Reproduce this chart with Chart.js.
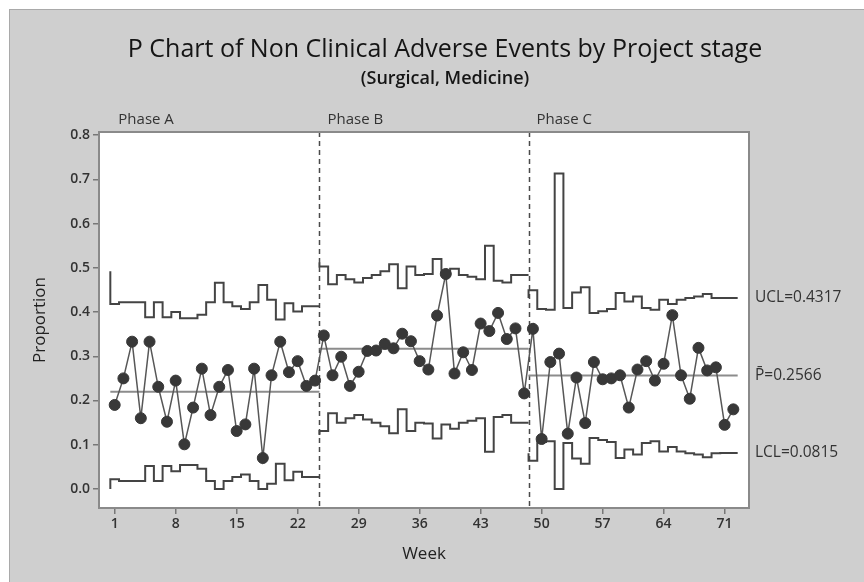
<!DOCTYPE html>
<html>
<head>
<meta charset="utf-8">
<script src="https://cdn.jsdelivr.net/npm/chart.js"></script>
<style>
  body { margin: 0; background: #fff; }
  canvas { display: block; }
</style>
</head>
<body>
<canvas id="myChart" width="864" height="582"></canvas>
<script>
const weeks = [1,2,3,4,5,6,7,8,9,10,11,12,13,14,15,16,17,18,19,20,21,22,23,24,
  25,26,27,28,29,30,31,32,33,34,35,36,37,38,39,40,41,42,43,44,45,46,47,48,
  49,50,51,52,53,54,55,56,57,58,59,60,61,62,63,64,65,66,67,68,69,70,71,72];

const proportion = [
  0.190,0.250,0.333,0.160,0.333,0.231,0.152,0.245,0.101,0.184,0.272,0.167,
  0.231,0.269,0.131,0.146,0.272,0.070,0.257,0.333,0.264,0.289,0.233,0.245,
  0.347,0.257,0.299,0.233,0.265,0.312,0.313,0.328,0.318,0.351,0.334,0.289,
  0.270,0.392,0.486,0.261,0.309,0.269,0.374,0.357,0.398,0.339,0.363,0.216,
  0.362,0.113,0.287,0.306,0.125,0.252,0.149,0.287,0.248,0.250,0.257,0.184,
  0.270,0.289,0.245,0.283,0.393,0.257,0.204,0.319,0.268,0.275,0.145,0.180
];

const ucl = [
  0.492,0.418,0.422,0.422,0.422,0.388,0.422,0.388,0.400,0.386,0.386,0.394,
  0.422,0.466,0.422,0.413,0.407,0.422,0.461,0.428,0.383,0.420,0.401,0.413,
  0.512,0.503,0.463,0.484,0.474,0.467,0.477,0.484,0.492,0.508,0.454,0.503,
  0.484,0.486,0.520,0.488,0.498,0.484,0.480,0.474,0.550,0.471,0.467,0.484,
  0.432,0.449,0.407,0.405,0.713,0.409,0.444,0.456,0.398,0.402,0.407,0.443,
  0.424,0.435,0.409,0.405,0.428,0.418,0.428,0.432,0.435,0.441,0.432,0.4317
];

const lcl = [
  0.000,0.022,0.018,0.018,0.018,0.052,0.018,0.052,0.040,0.054,0.054,0.046,
  0.018,0.000,0.018,0.027,0.033,0.018,0.000,0.012,0.057,0.020,0.039,0.027,
  0.122,0.131,0.171,0.150,0.160,0.167,0.157,0.150,0.142,0.126,0.180,0.131,
  0.150,0.148,0.114,0.146,0.136,0.150,0.154,0.160,0.084,0.163,0.167,0.150,
  0.081,0.064,0.106,0.108,0.000,0.104,0.069,0.057,0.115,0.111,0.106,0.070,
  0.089,0.078,0.104,0.108,0.085,0.095,0.085,0.081,0.078,0.072,0.081,0.0815
];

const phaseNames = ["Phase A", "Phase B", "Phase C"];
const phaseStart = [1, 25, 49];
const phaseEnd = [24, 48, 72];
const centers = [0.220, 0.317, 0.2566];

const xTicks = [1, 8, 15, 22, 29, 36, 43, 50, 57, 64, 71];
const yTicks = [0, 0.1, 0.2, 0.3, 0.4, 0.5, 0.6, 0.7, 0.8];

const limitLabels = ["UCL=0.4317", "P\u0304=0.2566", "LCL=0.0815"];

// step lines: each week's limit covers [w-0.5, w+0.5], broken between phases
function stepPoints(values) {
  let pts = [];
  for (let p = 0; p < phaseStart.length; p++) {
    for (let w = phaseStart[p]; w <= phaseEnd[p]; w++) {
      pts.push({ x: w - 0.5, y: values[w - 1] });
    }
    pts.push({ x: phaseEnd[p] + 0.5, y: values[phaseEnd[p] - 1] });
    pts.push({ x: phaseEnd[p] + 0.5, y: null });
  }
  return pts;
}

function centerPoints() {
  let pts = [];
  for (let p = 0; p < centers.length; p++) {
    pts.push({ x: phaseStart[p] - 0.5, y: centers[p] });
    pts.push({ x: phaseEnd[p] + 0.5, y: centers[p] });
    pts.push({ x: phaseEnd[p] + 0.5, y: null });
  }
  return pts;
}

const FONT = "'Open Sans', 'DejaVu Sans', sans-serif";

const decor = {
  id: "decor",
  beforeDraw(chart) {
    const { ctx, chartArea: a } = chart;
    ctx.save();
    ctx.fillStyle = "#ffffff";
    ctx.fillRect(0, 0, chart.width, chart.height);
    ctx.fillStyle = "#cfcfcf";
    ctx.fillRect(9, 9, chart.width - 9, chart.height - 9);
    ctx.strokeStyle = "#a9a9a9";
    ctx.lineWidth = 1;
    ctx.strokeRect(9.5, 9.5, chart.width - 9, chart.height - 9);
    ctx.fillStyle = "#ffffff";
    ctx.fillRect(a.left, a.top, a.width, a.height);

    ctx.fillStyle = "#151515";
    ctx.textAlign = "center";
    ctx.textBaseline = "middle";
    ctx.font = "25px " + FONT;
    ctx.fillText("P Chart of Non Clinical Adverse Events by Project stage", 445, 50);
    ctx.font = "600 18px " + FONT;
    ctx.fillText("(Surgical, Medicine)", 445, 79);

    const xs = chart.scales.x;
    ctx.font = "15px " + FONT;
    ctx.textAlign = "left";
    ctx.fillStyle = "#333";
    for (let p = 0; p < phaseNames.length; p++) {
      ctx.fillText(phaseNames[p], xs.getPixelForValue(phaseStart[p] - 0.5) + 8, 120);
    }
    ctx.restore();
  },
  beforeDatasetsDraw(chart) {
    const { ctx, chartArea: a } = chart;
    const xs = chart.scales.x;
    ctx.save();
    ctx.strokeStyle = "#4a4a4a";
    ctx.lineWidth = 1.5;
    ctx.setLineDash([5, 4]);
    for (let p = 1; p < phaseStart.length; p++) {
      const x = Math.round(xs.getPixelForValue(phaseStart[p] - 0.5)) + 0.5;
      ctx.beginPath();
      ctx.moveTo(x, a.top);
      ctx.lineTo(x, a.bottom);
      ctx.stroke();
    }
    ctx.restore();
  },
  afterDraw(chart) {
    const { ctx, chartArea: a } = chart;
    const ys = chart.scales.y;
    ctx.save();
    ctx.strokeStyle = "#8a8a8a";
    ctx.lineWidth = 2;
    ctx.strokeRect(a.left, a.top, a.width, a.height);

    ctx.fillStyle = "#333";
    ctx.font = "15.5px " + FONT;
    ctx.textAlign = "left";
    ctx.textBaseline = "middle";
    const last = weeks.length - 1;
    const vals = [ucl[last], centers[centers.length - 1], lcl[last]];
    for (let i = 0; i < limitLabels.length; i++) {
      ctx.fillText(limitLabels[i], a.right + 6, ys.getPixelForValue(vals[i]));
    }
    ctx.restore();
  }
};

const ctx = document.getElementById("myChart").getContext("2d");
const chart = new Chart(ctx, {
  type: "line",
  data: {
    datasets: [
      {
        label: "Proportion",
        data: weeks.map((w, i) => ({ x: w, y: proportion[i] })),
        borderColor: "#575757",
        borderWidth: 1.5,
        pointRadius: 5.5,
        pointBackgroundColor: "#383838",
        pointBorderColor: "#383838",
        pointBorderWidth: 1,
        order: 0
      },
      {
        label: "UCL",
        data: stepPoints(ucl),
        stepped: "after",
        borderColor: "#444444",
        borderWidth: 2,
        pointRadius: 0,
        spanGaps: false,
        order: 1
      },
      {
        label: "LCL",
        data: stepPoints(lcl),
        stepped: "after",
        borderColor: "#444444",
        borderWidth: 2,
        pointRadius: 0,
        spanGaps: false,
        order: 1
      },
      {
        label: "Center",
        data: centerPoints(),
        borderColor: "#8c8c8c",
        borderWidth: 2,
        pointRadius: 0,
        spanGaps: false,
        order: 2
      }
    ]
  },
  options: {
    responsive: false,
    animation: false,
    devicePixelRatio: 1,
    layout: { padding: { top: 132, right: 115, bottom: 0, left: 0 } },
    plugins: {
      legend: { display: false },
      title: { display: false },
      tooltip: { enabled: false }
    },
    scales: {
      x: {
        type: "linear",
        min: -0.8,
        max: 73.8,
        afterFit(scale) { scale.height = 74; },
        afterBuildTicks(scale) { scale.ticks = xTicks.map(v => ({ value: v })); },
        grid: { drawOnChartArea: false, drawTicks: true, tickLength: 6, color: "#777", lineWidth: 1.5 },
        border: { display: false },
        ticks: {
          color: "#333",
          font: { family: FONT, size: 14, weight: "600" },
          padding: 2,
          maxRotation: 0,
          autoSkip: false,
          callback: v => String(v)
        },
        title: {
          display: true,
          text: "Week",
          color: "#222",
          font: { family: FONT, size: 17 },
          padding: { top: 0, bottom: 18 }
        }
      },
      y: {
        min: -0.043,
        max: 0.807,
        afterFit(scale) { scale.width = 99; },
        afterBuildTicks(scale) { scale.ticks = yTicks.map(v => ({ value: v })); },
        grid: { drawOnChartArea: false, drawTicks: true, tickLength: 6, color: "#777", lineWidth: 1.5 },
        border: { display: false },
        ticks: {
          color: "#333",
          font: { family: FONT, size: 14, weight: "600" },
          padding: 3,
          autoSkip: false,
          callback: v => v.toFixed(1)
        },
        title: {
          display: true,
          text: "Proportion",
          color: "#222",
          font: { family: FONT, size: 17 },
          padding: { top: 30, bottom: 0 }
        }
      }
    }
  },
  plugins: [decor]
});
</script>
</body>
</html>
